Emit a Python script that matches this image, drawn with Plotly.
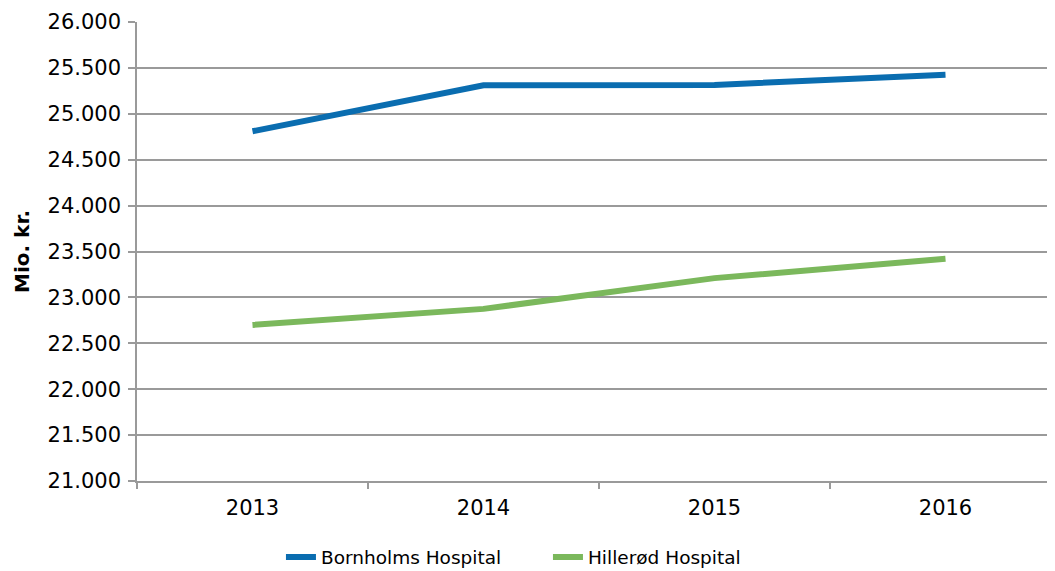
import plotly.graph_objects as go

years = ["2013", "2014", "2015", "2016"]
bornholm = [24810, 25310, 25315, 25425]
hilleroed = [22700, 22875, 23210, 23420]
series_names = ["Bornholms Hospital", "Hillerød Hospital"]
y_ticks = [21000, 21500, 22000, 22500, 23000, 23500, 24000, 24500, 25000, 25500, 26000]

FONT = "DejaVu Sans"
GRID = "#9a9a9a"

fig = go.Figure()
fig.add_trace(go.Scatter(x=years, y=bornholm, mode="lines", name=series_names[0],
                         line=dict(color="#0A6DB0", width=6)))
fig.add_trace(go.Scatter(x=years, y=hilleroed, mode="lines", name=series_names[1],
                         line=dict(color="#7BB85C", width=6)))

fig.update_layout(
    width=1055, height=571,
    margin=dict(l=129, r=2, t=12, b=97),
    plot_bgcolor="white", paper_bgcolor="white",
    separators=",.",
    font=dict(family=FONT, size=20, color="#000000"),
    showlegend=True,
    legend=dict(orientation="h", x=0.1558, xanchor="left", y=-0.1665, yanchor="middle",
                font=dict(family=FONT, size=18.5, color="#000000"),
                entrywidth=222, entrywidthmode="pixels", tracegroupgap=0),
    xaxis=dict(type="category", range=[-0.5, 3.5], showgrid=False,
               showline=True, linecolor=GRID, linewidth=1.5,
               ticks="outside", ticklen=6, tickcolor=GRID, tickwidth=1.5,
               tickson="boundaries", tickfont=dict(size=21), ticklabelstandoff=7),
    yaxis=dict(range=[21000, 26000], tickvals=y_ticks, tickformat=",.0f",
               showgrid=True, gridcolor=GRID, gridwidth=1.5,
               showline=True, linecolor=GRID, linewidth=1.5,
               ticks="outside", ticklen=7, tickcolor=GRID, tickwidth=1.5,
               tickfont=dict(size=21), ticklabelstandoff=3, zeroline=False,
               title=dict(text="<b>Mio. kr.</b>", font=dict(size=20), standoff=13)),
)

fig.write_html("out.html")
